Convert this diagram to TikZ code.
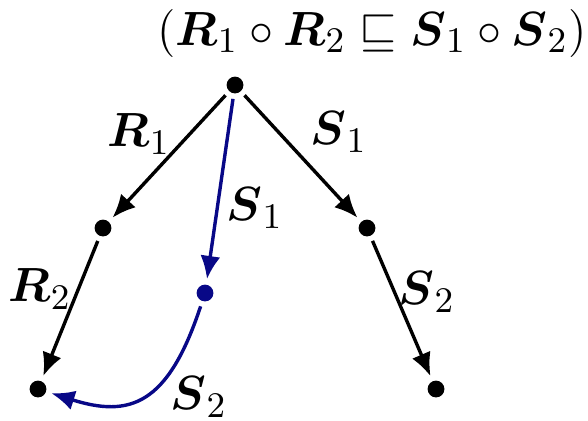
\documentclass[tikz,border=0pt]{standalone}
\usepackage{amsmath,amssymb}
\usetikzlibrary{arrows.meta}
\definecolor{navyblue}{RGB}{8,8,135}
\begin{document}
\begin{tikzpicture}[x=0.25pt,y=-0.25pt,
  dot/.style={circle,fill,inner sep=0pt,minimum size=4.2pt,outer sep=1.4pt},
  edge/.style={line width=0.85pt,-{Latex[length=5.8pt,width=5pt]}},
  lbl/.style={font=\fontsize{12.5}{14}\selectfont,inner sep=0pt}]
\useasboundingbox (0,0) rectangle (588,420);
\node[lbl] (title) at (372,33) {$(\boldsymbol{R}_1 \circ \boldsymbol{R}_2 \sqsubseteq \boldsymbol{S}_1 \circ \boldsymbol{S}_2)$};
\node[dot] (top) at (235,85) {};
\node[dot] (lm) at (103,228) {};
\node[dot] (lb) at (38,389) {};
\node[dot,navyblue] (bm) at (205,293) {};
\node[dot] (rm) at (367,228) {};
\node[dot] (rb) at (436,389) {};
\draw[edge] (top) -- (lm);
\draw[edge] (lm) -- (lb);
\draw[edge] (top) -- (rm);
\draw[edge] (rm) -- (rb);
\draw[edge,navyblue] (top) -- (bm);
\draw[edge,navyblue] (bm) .. controls (168,405) and (130,418) .. (lb);
\node[lbl] (r1) at (139,134) {$\boldsymbol{R}_1$};
\node[lbl] (r2) at (40,289) {$\boldsymbol{R}_2$};
\node[lbl] (s1a) at (339,132) {$\boldsymbol{S}_1$};
\node[lbl] (s1b) at (255,208) {$\boldsymbol{S}_1$};
\node[lbl] (s2a) at (427,292) {$\boldsymbol{S}_2$};
\node[lbl] (s2b) at (199,397) {$\boldsymbol{S}_2$};
\end{tikzpicture}
\end{document}
